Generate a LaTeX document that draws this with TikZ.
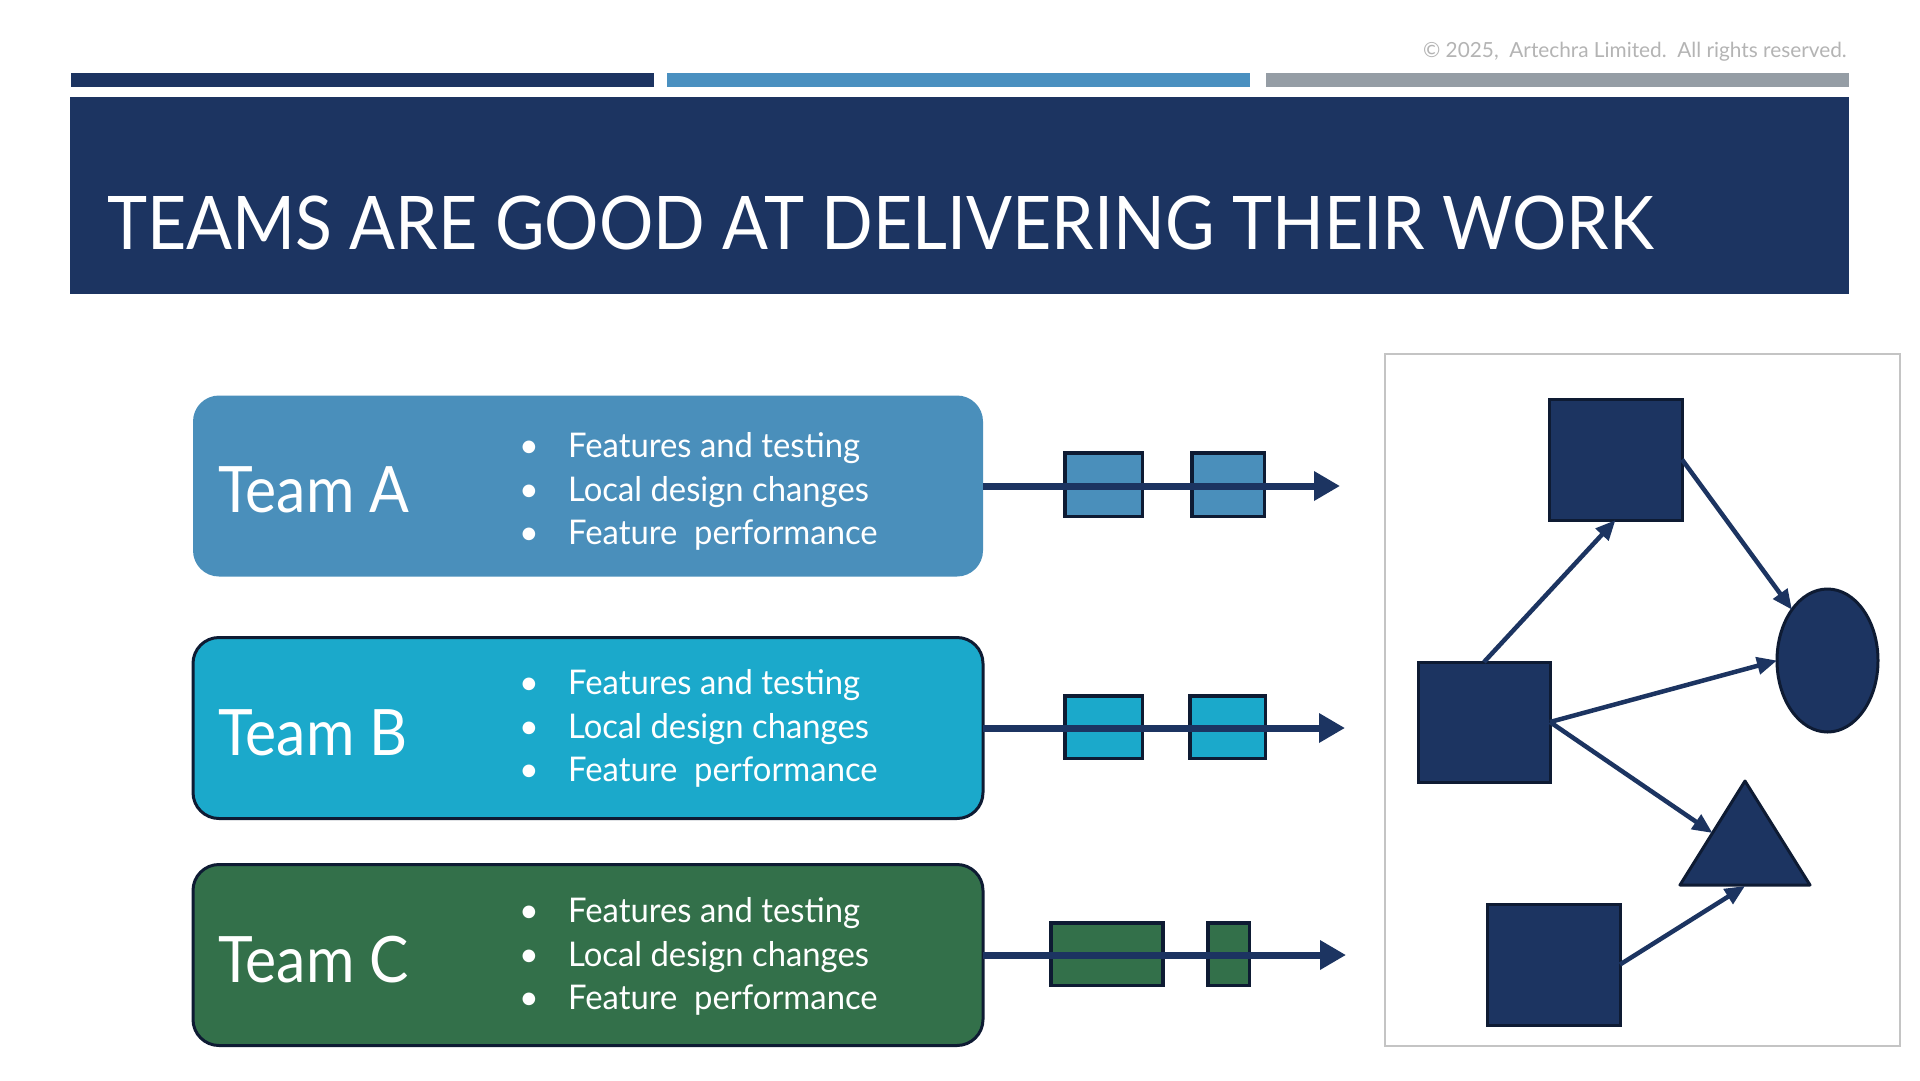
\documentclass[tikz,border=0pt]{standalone}
\usepackage{fontspec}
\setmainfont{Lato}
\usetikzlibrary{arrows.meta,shapes.geometric}
\definecolor{navy}{HTML}{1C3461}
\definecolor{bluebar}{HTML}{4A90C0}
\definecolor{graybar}{HTML}{959DA5}
\definecolor{teamA}{HTML}{4A8FBB}
\definecolor{teamB}{HTML}{1BA9CB}
\definecolor{teamC}{HTML}{33704A}
\definecolor{edgedark}{HTML}{0E1B33}
\definecolor{framegray}{HTML}{C4C4C4}
\definecolor{copygray}{HTML}{B4B4B4}
\newcommand{\tlab}[1]{\scalebox{0.92}[1]{#1}}
\newcommand{\btxt}[1]{\scalebox{0.965}[1]{#1}}
\tikzset{
  teambox/.style={rounded corners=26pt, minimum width=790pt, minimum height=181pt, inner sep=0pt, outer sep=0pt},
  teamlabel/.style={anchor=base west, text=white, inner sep=0pt, font=\fontsize{64}{70}\selectfont},
  bultext/.style={anchor=base west, text=white, inner sep=0pt, font=\fontsize{34}{40}\selectfont},
  buldot/.style={anchor=base, text=white, inner sep=0pt, font=\fontsize{34}{40}\selectfont},
  chip/.style={draw=edgedark, line width=3.5pt, inner sep=0pt, outer sep=0pt},
  flow/.style={navy, line width=7pt, -{Triangle[length=26pt,width=28pt]}},
  shapebox/.style={fill=navy, draw=edgedark, line width=3pt, inner sep=0pt, outer sep=0pt},
  link/.style={navy, line width=4.5pt, -{Triangle[length=20pt,width=17pt]}}
}
\begin{document}
\begin{tikzpicture}[x=1pt,y=-1pt]
\useasboundingbox (0,0) rectangle (1920,1080);
\fill[white] (0,0) rectangle (1920,1080);
% top bars
\fill[navy] (71,73) rectangle (654,87);
\fill[bluebar] (667,73) rectangle (1250,87);
\fill[graybar] (1266,73) rectangle (1849,87);
\node[anchor=base east, text=copygray, inner sep=0pt, font=\fontsize{20.8}{24}\selectfont] (copy) at (1847,57) {© 2025,\ \ Artechra Limited.\ \ All rights reserved.};
% title band
\node[fill=navy, minimum width=1779pt, minimum height=197pt, anchor=north west, inner sep=0pt] (band) at (70,97) {};
\node[anchor=base west, text=white, inner sep=0pt, font=\fontsize{74}{80}\selectfont] (title) at (107,249) {\scalebox{0.918}[1]{TEAMS ARE GOOD AT DELIVERING THEIR WORK}};
% team boxes
\node[teambox, fill=teamA] (tA) at (588,486) {};
\node[teambox, fill=teamB, draw=edgedark, line width=3pt] (tB) at (588,728) {};
\node[teambox, fill=teamC, draw=edgedark, line width=3pt] (tC) at (588,955) {};
\node[teamlabel] (lA) at (218,512) {\tlab{Team A}};
\node[teamlabel] (lB) at (218,755) {\tlab{Team B}};
\node[teamlabel] (lC) at (218,982) {\tlab{Team C}};
% bullets A
\node[buldot] (dA1) at (529,457) {•};
\node[buldot] (dA2) at (529,501) {•};
\node[buldot] (dA3) at (529,544) {•};
\node[bultext] (xA1) at (568,457) {\btxt{Features and testing}};
\node[bultext] (xA2) at (568,501) {\btxt{Local design changes}};
\node[bultext] (xA3) at (568,544) {\btxt{Feature\ \ performance}};
% bullets B
\node[buldot] (dB1) at (529,694) {•};
\node[buldot] (dB2) at (529,738) {•};
\node[buldot] (dB3) at (529,781) {•};
\node[bultext] (xB1) at (568,694) {\btxt{Features and testing}};
\node[bultext] (xB2) at (568,738) {\btxt{Local design changes}};
\node[bultext] (xB3) at (568,781) {\btxt{Feature\ \ performance}};
% bullets C
\node[buldot] (dC1) at (529,922) {•};
\node[buldot] (dC2) at (529,966) {•};
\node[buldot] (dC3) at (529,1009) {•};
\node[bultext] (xC1) at (568,922) {\btxt{Features and testing}};
\node[bultext] (xC2) at (568,966) {\btxt{Local design changes}};
\node[bultext] (xC3) at (568,1009) {\btxt{Feature\ \ performance}};
% chips
\node[chip, fill=teamA, minimum width=77.5pt, minimum height=63.5pt] (cA1) at (1103.5,484.5) {};
\node[chip, fill=teamA, minimum width=72.5pt, minimum height=63.5pt] (cA2) at (1228,484.5) {};
\node[chip, fill=teamB, minimum width=77.5pt, minimum height=62.5pt] (cB1) at (1103.5,727) {};
\node[chip, fill=teamB, minimum width=75.5pt, minimum height=62.5pt] (cB2) at (1227.5,727) {};
\node[chip, fill=teamC, minimum width=112pt, minimum height=62.5pt] (cC1) at (1107,954) {};
\node[chip, fill=teamC, minimum width=41.5pt, minimum height=62.5pt] (cC2) at (1228.7,954) {};
% flow arrows
\coordinate (eA) at (1340,486);
\coordinate (eB) at (1345,728);
\coordinate (eC) at (1346,955);
\draw[flow] (tA.east) -- (eA);
\draw[flow] (tB.east) -- (eB);
\draw[flow] (tC.east) -- (eC);
% right panel
\node[draw=framegray, line width=2.5pt, minimum width=515pt, minimum height=692pt, inner sep=0pt] (frame) at (1642.5,700) {};
\node[shapebox, minimum width=133pt, minimum height=121pt] (sq1) at (1615.5,459.5) {};
\node[shapebox, minimum width=132pt, minimum height=120pt] (sq2) at (1484,722) {};
\node[shapebox, minimum width=133pt, minimum height=121pt] (sq3) at (1553.5,964.5) {};
\node[shapebox, ellipse, minimum width=101pt, minimum height=143pt] (el) at (1827.5,660.5) {};
\coordinate (tapex) at (1745,781);
\coordinate (tleft) at (1680,885);
\coordinate (tright) at (1810,885);
\coordinate (tside) at (1712.5,833);
\coordinate (tbase) at (1745,886);
\filldraw[fill=navy, draw=edgedark, line width=3pt, line join=round] (tapex) -- (tright) -- (tleft) -- cycle;
\draw[link] (sq2.north) -- (sq1.south);
\draw[link] (sq1.east) -- (el.125);
\draw[link] (sq2.east) -- (el.west);
\draw[link] (sq2.east) -- (tside);
\draw[link] (sq3.east) -- (tbase);
\end{tikzpicture}
\end{document}
